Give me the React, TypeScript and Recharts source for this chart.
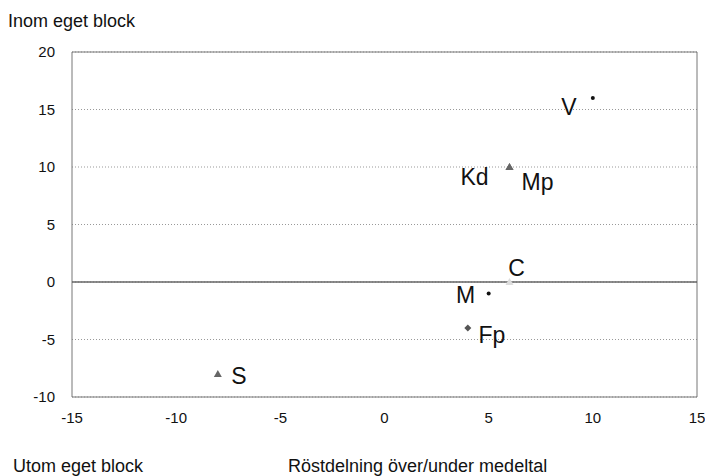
import React from 'react';
import {
  ScatterChart, Scatter, XAxis, YAxis, CartesianGrid, ReferenceLine, ReferenceArea,
} from 'recharts';

const parties = ['V', 'Kd', 'Mp', 'C', 'M', 'Fp', 'S'];
const voteShare = [10, 6, 6, 6, 5, 4, -8];
const ownBlock = [16, 10, 10, 0, -1, -4, -8];
const xTicks = [-15, -10, -5, 0, 5, 10, 15];
const yTicks = [-10, -5, 0, 5, 10, 15, 20];

const points = parties.map((name, i) => ({ name, x: voteShare[i], y: ownBlock[i] }));

// marker look and label placement per party
const markerStyle: Record<string, { kind: string; color: string }> = {
  V: { kind: 'dot', color: '#111' },
  M: { kind: 'dot', color: '#111' },
  Kd: { kind: 'tri', color: '#666' },
  Mp: { kind: 'tri', color: '#666' },
  S: { kind: 'tri', color: '#666' },
  Fp: { kind: 'diamond', color: '#555' },
  C: { kind: 'tri', color: '#ddd' },
};
const labelShift: Record<string, [number, number]> = {
  V: [-24, 9],
  Kd: [-35, 10],
  Mp: [28, 15],
  C: [7, -14],
  M: [-23, 1],
  Fp: [24, 7],
  S: [21, 2],
};

const font = 'Arial, "Liberation Sans", Helvetica, sans-serif';

function PartyMark(props: any) {
  const { cx, cy, payload } = props;
  const st = markerStyle[payload.name];
  const [dx, dy] = labelShift[payload.name];
  let mark;
  if (st.kind === 'dot') mark = <circle cx={cx} cy={cy} r={2} fill={st.color} />;
  else if (st.kind === 'tri')
    mark = <polygon points={`${cx},${cy - 4} ${cx - 4},${cy + 3} ${cx + 4},${cy + 3}`} fill={st.color} />;
  else mark = <polygon points={`${cx},${cy - 3.5} ${cx + 3.5},${cy} ${cx},${cy + 3.5} ${cx - 3.5},${cy}`} fill={st.color} />;
  return (
    <g>
      {mark}
      <text x={cx + dx} y={cy + dy} textAnchor="middle" dominantBaseline="central"
        fontSize={23} fontFamily={font} fill="#111">{payload.name}</text>
    </g>
  );
}

const note: React.CSSProperties = { position: 'absolute', fontSize: 18, lineHeight: '18px', color: '#111', whiteSpace: 'nowrap' };

export default function App() {
  return (
    <div style={{ position: 'absolute', left: 0, top: 0, width: 705, height: 476, background: '#fff', fontFamily: font }}>
      <div style={{ ...note, left: 8, top: 12 }}>Inom eget block</div>
      <div style={{ ...note, left: 13, top: 457 }}>Utom eget block</div>
      <div style={{ ...note, left: 288, top: 457 }}>Röstdelning över/under medeltal</div>
      <ScatterChart width={705} height={476} margin={{ top: 52, right: 8, bottom: 49, left: 42 }}>
        <CartesianGrid vertical={false} stroke="#999" strokeDasharray="1 2" />
        <XAxis type="number" dataKey="x" domain={[-15, 15]} ticks={xTicks} axisLine={false} tickLine={false}
          height={30} tickMargin={9} tick={{ fontSize: 15, fill: '#111', fontFamily: font }} />
        <YAxis type="number" dataKey="y" domain={[-10, 20]} ticks={yTicks} axisLine={false} tickLine={false}
          width={30} tickMargin={11} tick={{ fontSize: 15, fill: '#111', fontFamily: font }} />
        <ReferenceArea x1={-15} x2={15} y1={-10} y2={20} fill="none" stroke="#777" strokeWidth={1} />
        <ReferenceLine y={0} stroke="#666" strokeWidth={1.5} />
        <Scatter data={points} shape={PartyMark} isAnimationActive={false} />
      </ScatterChart>
    </div>
  );
}
